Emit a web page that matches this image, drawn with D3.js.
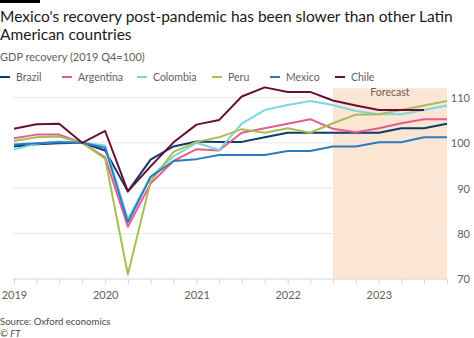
<!DOCTYPE html>
<html><head><meta charset="utf-8">
<script src="https://cdn.jsdelivr.net/npm/d3@7"></script>
<style>
html,body{margin:0;padding:0;background:#fff;}
svg{display:block;font-family:Lato,"Open Sans",sans-serif;}
</style></head>
<body><svg id="c" width="474" height="338"></svg>
<script>
const quarters = ["2019-01-01","2019-04-01","2019-07-01","2019-10-01","2020-01-01","2020-04-01","2020-07-01","2020-10-01","2021-01-01","2021-04-01","2021-07-01","2021-10-01","2022-01-01","2022-04-01","2022-07-01","2022-10-01","2023-01-01","2023-04-01","2023-07-01","2023-10-01"];
const brazil    = [99.2, 99.7, 99.9, 100, 98.3, 89.3, 96.3, 99.2, 100.3, 100.2, 100.2, 101.2, 102.2, 102.2, 102.2, 102.2, 102.2, 103.2, 103.2, 104.2];
const argentina = [101, 101.8, 101.8, 100, 96.8, 81.5, 91, 96, 98.6, 98.3, 102.2, 103.2, 104.2, 105.2, 103.1, 102.3, 103.2, 104.3, 105.2, 105.2];
const colombia  = [98.5, 99.8, 100.3, 100, 99.4, 83.2, 92.5, 97, 100, 98.4, 104.2, 107.2, 108.3, 109.2, 108.3, 107.0, 106.3, 106.3, 107.2, 108.2];
const peru      = [100.4, 101.2, 101.4, 100, 96.5, 71, 91.5, 98, 100.2, 101.2, 103.0, 102.2, 103.2, 102.2, 104.3, 106.2, 106.3, 107.2, 108.2, 109.2];
const mexico    = [99.6, 99.9, 100.1, 100, 98.9, 82.5, 92.5, 96, 96.4, 97.3, 97.3, 97.3, 98.2, 98.2, 99.2, 99.2, 100.1, 100.1, 101.2, 101.2];
const chile     = [103.1, 104.1, 104.2, 100, 102.6, 89.3, 94.8, 100.1, 104, 105, 110.2, 112.2, 111.2, 111.2, 109.3, 108.2, 107.2, 107.2, 107.2];
const seriesNames = ["Brazil","Argentina","Colombia","Peru","Mexico","Chile"];
const seriesColors = ["#0b3c6b","#e55c8e","#7ad7e2","#a5bf52","#2b7bbd","#680f36"];
const yTicks = [70, 80, 90, 100, 110];
const yearLabels = ["2019","2020","2021","2022","2023"];
const forecastStart = "2022-07-01";
const forecastEnd = "2023-10-01";

const seriesData = [brazil, argentina, colombia, peru, mexico, chile];
const parse = d3.timeParse("%Y-%m-%d");
const dates = quarters.map(parse);

const svg = d3.select("#c");
const x = d3.scaleTime().domain([dates[0], dates[dates.length-1]]).range([14, 447]);
const y = d3.scaleLinear().domain([70, 112]).range([279, 88.3]);

// FT bar
svg.append("rect").attr("x",0).attr("y",0).attr("width",40).attr("height",3).attr("fill","#000");

// title
const title = svg.append("text").attr("x",0).attr("fill","#1a1a1a").style("font-size","15.5px");
title.append("tspan").attr("x",0).attr("y",21.5).text("Mexico's recovery post-pandemic has been slower than other Latin");
title.append("tspan").attr("x",0).attr("y",39.5).text("American countries");
svg.append("text").attr("x",0).attr("y",61).attr("fill","#66605c").style("font-size","11px").text("GDP recovery (2019 Q4=100)");

// legend
const legendX = [0, 62, 137, 212, 270, 335];
seriesNames.forEach((n,i)=>{
  const g = svg.append("g").attr("transform",`translate(${legendX[i]},77)`);
  g.append("line").attr("x1",0).attr("x2",10).attr("y1",0).attr("y2",0).attr("stroke",seriesColors[i]).attr("stroke-width",2);
  g.append("text").attr("x",16).attr("y",3.8).attr("fill","#66605c").style("font-size","10.5px").text(n);
});

// forecast shading
svg.append("rect").attr("x",x(parse(forecastStart))).attr("y",y(112))
  .attr("width",x(parse(forecastEnd))-x(parse(forecastStart))).attr("height",y(70)-y(112))
  .attr("fill","#fde5d4");
svg.append("text").attr("x",(x(parse(forecastStart))+x(parse(forecastEnd)))/2).attr("y",96)
  .attr("text-anchor","middle").attr("fill","#66605c").style("font-size","10.5px").text("Forecast");

// gridlines
svg.append("g").selectAll("line").data(yTicks).join("line")
  .attr("x1",13).attr("x2",447).attr("y1",d=>y(d)).attr("y2",d=>y(d))
  .attr("stroke",d=>d===70?"#d9d4d0":"#ece8e5").attr("stroke-width",1);

// y axis labels (right)
const yAxis = d3.axisRight(y).tickValues(yTicks).tickSize(0).tickPadding(0);
const ya = svg.append("g").attr("transform","translate(470,0)").call(yAxis);
ya.select(".domain").remove();
ya.selectAll("text").attr("text-anchor","end").attr("fill","#66605c").style("font-size","11px").style("font-family","Lato,'Open Sans',sans-serif").attr("dy","0.35em");

// x axis
const xAxis = d3.axisBottom(x).tickValues(dates).tickSize(5).tickFormat(d=>d.getMonth()===0?yearLabels[d.getFullYear()-2019]:"");
const xa = svg.append("g").attr("transform","translate(0,279)").call(xAxis);
xa.select(".domain").remove();
xa.selectAll("line").attr("stroke","#d9d4d0");
xa.selectAll("text").attr("fill","#66605c").style("font-size","11px").style("font-family","Lato,'Open Sans',sans-serif").attr("dy","1.05em");

// lines
const line = d3.line().x((d,i)=>x(dates[i])).y(d=>y(d));
seriesData.forEach((s,i)=>{
  svg.append("path").datum(s).attr("d",line).attr("fill","none")
    .attr("stroke",seriesColors[i]).attr("stroke-width",2).attr("stroke-linejoin","round");
});

// source
svg.append("text").attr("x",0).attr("y",324.5).attr("fill","#4d4845").style("font-size","9.6px").text("Source: Oxford economics");
svg.append("text").attr("x",0).attr("y",336.5).attr("fill","#4d4845").style("font-size","9.6px").style("font-style","italic").text("© FT");
</script></body></html>
